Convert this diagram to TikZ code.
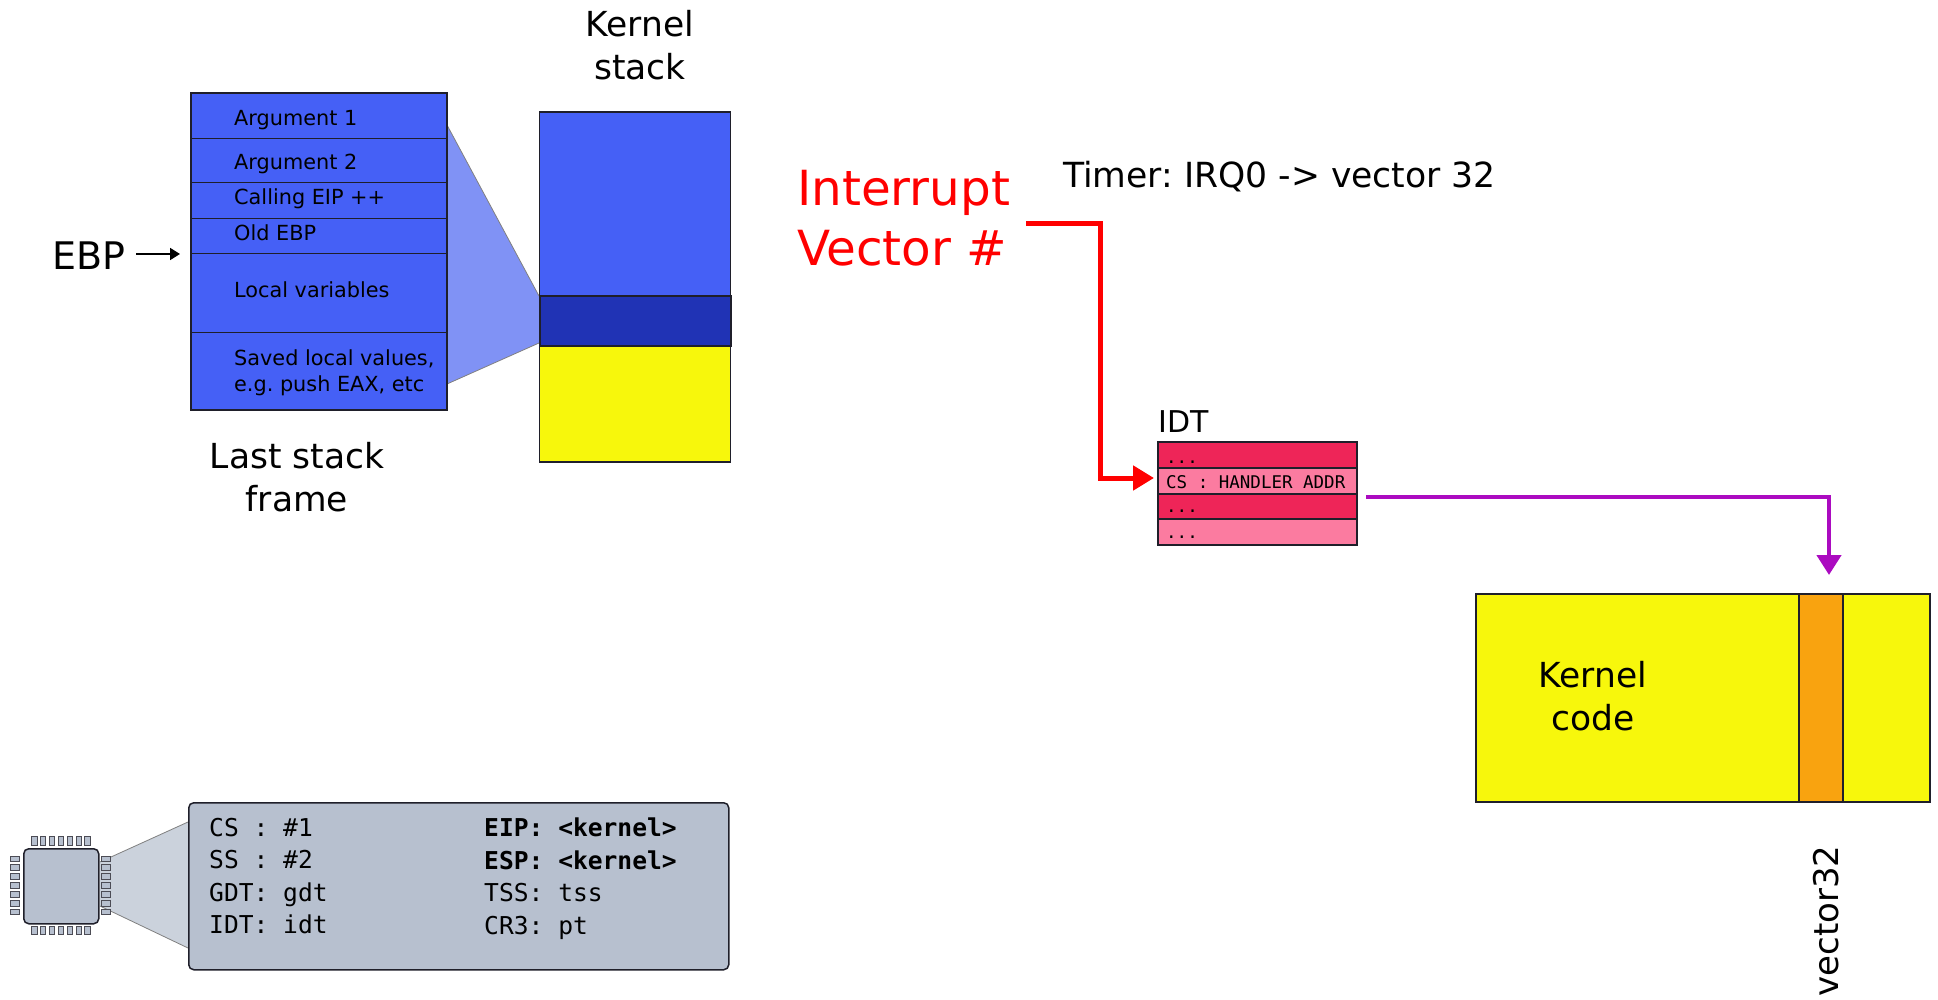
\documentclass[tikz,border=0pt]{standalone}
\usepackage{fontspec}
\setmainfont{DejaVu Sans}
\setmonofont{DejaVu Sans Mono}
\usetikzlibrary{arrows.meta}
\definecolor{stackblue}{HTML}{4560F6}
\definecolor{stackdark}{HTML}{2033B5}
\definecolor{funnelblue}{HTML}{8092F5}
\definecolor{codeyellow}{HTML}{F7F70C}
\definecolor{vecorange}{HTML}{F9A30F}
\definecolor{idtdark}{HTML}{EE2558}
\definecolor{idtlight}{HTML}{FB7BA0}
\definecolor{idtpurple}{HTML}{AB0BC0}
\definecolor{cpugrey}{HTML}{B7C0CF}
\definecolor{cpufunnel}{HTML}{CBD2DC}
\definecolor{edge}{HTML}{1F1F2A}
\tikzset{
	cell/.style={draw=edge, line width=1.5pt, anchor=north west, inner sep=0pt, outer sep=0pt},
	bigtext/.style={align=center, font=\fontsize{34.5}{43}\selectfont},
	framelabel/.style={anchor=base west, align=left, inner sep=0pt, font=\fontsize{20.8}{26}\selectfont},
	idtlabel/.style={anchor=base west, inner sep=0pt, font=\ttfamily\fontsize{17.5}{20}\selectfont},
	reglabel/.style={anchor=north west, align=left, inner sep=0pt, font=\ttfamily\fontsize{24.6}{32.4}\selectfont},
	pin/.style={draw=edge!80, line width=0.9pt, fill=cpugrey},
	funnel/.style={draw=gray, line width=0.8pt}
}
\frenchspacing
\begin{document}
\begin{tikzpicture}[x=1pt,y=-1pt]
	\useasboundingbox (0,0) rectangle (1938,1000);
	\fill[funnelblue] (447,125) -- (539,296) -- (539,343) -- (447,384) -- cycle;
	\draw[funnel] (447,125) -- (539,296) (539,343) -- (447,384);
	\foreach \name/\ytop/\h in {arga/93/46, argb/139/44, eip/183/36, oldebp/219/35, locals/254/78, saved/332/78}{
		\node[cell, fill=stackblue, line width=1pt, minimum width=256pt, minimum height=\h pt] (\name) at (191,\ytop) {};
	}
	\draw[draw=edge, line width=2pt] (arga.north west) rectangle (saved.south east);
	\node[framelabel] (argalabel) at (234,126) {Argument 1};
	\node[framelabel] (argblabel) at (234,170) {Argument 2};
	\node[framelabel] (eiplabel) at (234,205) {Calling EIP ++};
	\node[framelabel] (oldebplabel) at (234,241) {Old EBP};
	\node[framelabel] (localslabel) at (234,298) {Local variables};
	\node[framelabel] (savedlabel) at (234,391) {Saved local values,\\e.g. push EAX, etc};
	\node[font=\fontsize{38}{44}\selectfont, inner sep=0pt] (ebp) at (89,256) {EBP};
	\coordinate (ebpin) at (180,254);
	\draw[-{Triangle[length=10pt,width=12pt]}, line width=1.8pt] (136,254) -- (ebpin);
	\node[bigtext] (lastframe) at (297,477) {Last stack\\frame};
	\node[bigtext] (stacktitle) at (640,45) {Kernel\\stack};
	\node[cell, fill=stackblue, minimum width=191pt, minimum height=184pt] (stacktop) at (539.5,112) {};
	\node[cell, fill=stackdark, line width=2pt, minimum width=191pt, minimum height=50pt] (stackmid) at (539.5,296) {};
	\node[cell, fill=codeyellow, minimum width=191pt, minimum height=116pt] (stackfree) at (539.5,346) {};
	\node[text=red, align=left, anchor=west, inner sep=0pt, font=\fontsize{48.4}{60}\selectfont] (vector) at (797,218) {Interrupt\\Vector \#};
	\node[anchor=base west, inner sep=0pt, font=\fontsize{34.6}{40}\selectfont] (timer) at (1063,188) {Timer: IRQ0 -> vector 32};
	\node[anchor=base west, inner sep=0pt, font=\fontsize{30}{36}\selectfont] (idttitle) at (1158,432) {IDT};
	\node[cell, fill=idtdark, minimum width=199pt, minimum height=26pt] (idta) at (1158,442) {};
	\node[cell, fill=idtlight, minimum width=199pt, minimum height=26pt] (idtb) at (1158,468) {};
	\node[cell, fill=idtdark, minimum width=199pt, minimum height=25pt] (idtc) at (1158,494) {};
	\node[cell, fill=idtlight, minimum width=199pt, minimum height=26pt] (idtd) at (1158,519) {};
	\node[idtlabel] (idtalabel) at (1166,463) {...};
	\node[idtlabel] (idtblabel) at (1166,488) {CS : HANDLER ADDR};
	\node[idtlabel] (idtclabel) at (1166,512) {...};
	\node[idtlabel] (idtdlabel) at (1166,538) {...};
	\coordinate (vecout) at (1026,224);
	\coordinate (redbend) at (1100,478);
	\draw[red, line width=5pt, -{Triangle[length=21pt,width=24pt]}, shorten >=4pt] (vecout) -| (redbend) -- (idtb.west |- redbend);
	\node[cell, fill=codeyellow, minimum width=454pt, minimum height=208pt] (kernelcode) at (1476,594) {};
	\node[cell, fill=vecorange, minimum width=44pt, minimum height=208pt] (vecslot) at (1799,594) {};
	\node[bigtext] (kernellabel) at (1593,696) {Kernel\\code};
	\node[rotate=90, inner sep=0pt, font=\fontsize{34}{40}\selectfont] (veclabel) at (1826,921) {vector32};
	\coordinate (idtout) at (1366,497);
	\coordinate (purpletip) at (1829,575);
	\draw[idtpurple, line width=4.5pt, -{Triangle[length=20pt,width=24pt]}] (idtout) -| (purpletip);
	\fill[cpufunnel] (100,862) -- (188,822) -- (188,948) -- (100,906) -- cycle;
	\draw[funnel] (100,862) -- (188,822) (188,948) -- (100,906);
	\node[draw=edge, line width=1.5pt, fill=cpugrey, rounded corners=5pt, anchor=north west, inner sep=0pt, minimum width=540pt, minimum height=167pt] (regs) at (188,802) {};
	\node[reglabel] (regsleft) at (209,818) {CS : \#1\\SS : \#2\\GDT: gdt\\IDT: idt};
	\node[reglabel] (regsright) at (484,818) {\textbf{EIP: <kernel>}\\\textbf{ESP: <kernel>}\\TSS: tss\\CR3: pt};
	\foreach \k in {0,...,6}{
		\path[pin] (31.5+\k*8.9,836) rectangle +(5.5,9);
		\path[pin] (31.5+\k*8.9,926) rectangle +(5.5,8);
		\path[pin] (10.5,856+\k*8.9) rectangle +(9,5.5);
		\path[pin] (101,856+\k*8.9) rectangle +(9,5.5);
	}
	\node[draw=edge, line width=1.5pt, fill=cpugrey, rounded corners=5pt, anchor=north west, inner sep=0pt, minimum width=75pt, minimum height=75pt] (chip) at (23,848) {};
\end{tikzpicture}
\end{document}
